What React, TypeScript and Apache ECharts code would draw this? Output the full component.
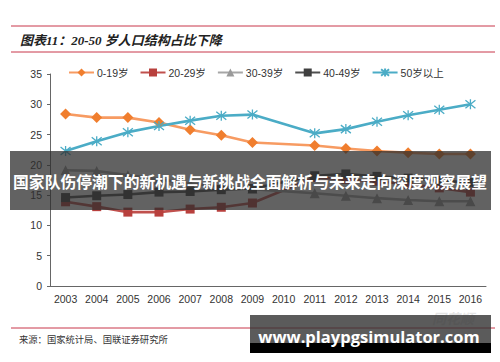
import React, { useEffect, useRef } from "react";
import * as echarts from "echarts";

const years = ["2003", "2004", "2005", "2006", "2007", "2008", "2009", "2010", "2011", "2012", "2013", "2014", "2015", "2016"];
const age0to19 = [28.4, 27.8, 27.8, 27.0, 25.8, 24.9, 23.7, null, 23.2, 22.7, 22.3, 22.0, 21.8, 21.8];
const age20to29 = [13.9, 13.1, 12.2, 12.2, 12.7, 13.0, 13.7, null, 17.9, 17.6, 17.3, 16.8, 16.2, 15.5];
const age30to39 = [19.1, 19.0, 18.3, 17.6, 16.9, 16.4, 16.0, null, 15.3, 14.9, 14.5, 14.2, 14.0, 14.0];
const age40to49 = [14.6, 14.9, 15.1, 15.5, 15.6, 15.9, 16.1, null, 18.2, 18.5, 18.1, 17.8, 17.4, 17.1];
const age50plus = [22.3, 23.9, 25.4, 26.4, 27.3, 28.1, 28.3, null, 25.2, 25.9, 27.1, 28.2, 29.1, 30.0];
const yTicks = { min: 0, max: 35, interval: 5 };

const seriesNames = ["0-19岁", "20-29岁", "30-39岁", "40-49岁", "50岁以上"];

export default function App() {
  const ref = useRef<HTMLDivElement>(null);
  useEffect(() => {
    document.body.style.margin = "0";
    const chart = echarts.init(ref.current!, null, { renderer: "svg" });
    const mk = (name: string, data: (number | null)[], lineColor: string, markColor: string, symbol: string, size: number, extra: any = {}) => ({
      name,
      type: "line",
      data,
      connectNulls: true,
      symbol,
      symbolSize: size,
      showAllSymbol: true,
      lineStyle: { color: lineColor, width: 2.6 },
      itemStyle: { color: markColor, borderColor: markColor, borderWidth: 0, ...extra },
      z: 2,
    });
    chart.setOption({
      animation: false,
      backgroundColor: "#ffffff",
      textStyle: { fontFamily: "Liberation Sans, Arial, Noto Sans CJK SC, sans-serif" },
      legend: {
        left: 68,
        top: 66,
        itemWidth: 25,
        itemHeight: 10,
        itemGap: 11,
        padding: 0,
        textStyle: { fontSize: 10.5, color: "#333", padding: [0, 0, 0, -2] },
        data: seriesNames,
      },
      grid: { left: 50, right: 14, top: 74, bottom: 76 },
      xAxis: {
        type: "category",
        data: years,
        boundaryGap: true,
        axisLine: { lineStyle: { color: "#666", width: 1 } },
        axisTick: { inside: true, length: 3, lineStyle: { color: "#666" } },
        axisLabel: { color: "#333", fontSize: 10.5, margin: 8 },
      },
      yAxis: {
        type: "value",
        min: yTicks.min,
        max: yTicks.max,
        interval: yTicks.interval,
        axisLine: { show: true, lineStyle: { color: "#666", width: 1 } },
        axisTick: { show: true, length: 3, lineStyle: { color: "#666" } },
        splitLine: { show: false },
        axisLabel: { color: "#333", fontSize: 10.5, margin: 8 },
      },
      series: [
        mk(seriesNames[0], age0to19, "#F79B62", "#F07E2E", "diamond", 11),
        mk(seriesNames[1], age20to29, "#C0504D", "#B8403D", "rect", 9),
        mk(seriesNames[2], age30to39, "#A6A6A6", "#9A9A9A", "triangle", 10),
        mk(seriesNames[3], age40to49, "#4F4F4F", "#404040", "rect", 9),
        mk(seriesNames[4], age50plus, "#4BACC6", "#4BACC6", "path://M1,1L9,9M9,1L1,9M5,0L5,10", 10, { borderWidth: 1.3, color: "none", borderColor: "#4BACC6" }),
      ],
      graphic: [
        { type: "line", shape: { x1: 11, y1: 26, x2: 495, y2: 26 }, style: { stroke: "#C8374A", lineWidth: 1 } },
        { type: "line", shape: { x1: 11, y1: 52, x2: 495, y2: 52 }, style: { stroke: "#C8374A", lineWidth: 1 } },
        {
          type: "text",
          x: 20,
          y: 40,
          style: {
            text: "图表11：20-50 岁人口结构占比下降",
            fontSize: 13,
            fontWeight: "bold",
            fontStyle: "italic",
            fontFamily: "Liberation Serif, Noto Sans CJK SC, serif",
            fill: "#222",
            verticalAlign: "middle",
          },
        },
        { type: "line", shape: { x1: 11, y1: 328, x2: 495, y2: 328 }, style: { stroke: "#C8374A", lineWidth: 1 }, z: 1 },
        {
          type: "text",
          x: 19,
          y: 339,
          style: {
            text: "来源：国家统计局、国联证券研究所",
            fontSize: 9.3,
            fontFamily: "Noto Sans CJK SC, sans-serif",
            fill: "#333",
            verticalAlign: "middle",
          },
        },
        {
          type: "text",
          x: 453,
          y: 318,
          style: {
            text: "同花顺",
            fontSize: 14,
            fontStyle: "italic",
            fontWeight: "bold",
            fontFamily: "Noto Sans CJK SC, sans-serif",
            fill: "rgba(150,150,150,0.25)",
            align: "center",
            verticalAlign: "middle",
          },
          z: 1,
        },
        {
          type: "rect",
          shape: { x: 10, y: 151, width: 481, height: 59 },
          style: { fill: "rgba(45,45,45,0.75)" },
          z: 100,
        },
        {
          type: "text",
          x: 250,
          y: 181,
          style: {
            text: "国家队伤停潮下的新机遇与新挑战全面解析与未来走向深度观察展望",
            fontSize: 15.8,
            fontWeight: "bold",
            fontFamily: "Noto Sans CJK SC, sans-serif",
            fill: "#ffffff",
            align: "center",
            verticalAlign: "middle",
          },
          z: 101,
        },
        {
          type: "rect",
          shape: { x: 250, y: 315, width: 241, height: 28 },
          style: { fill: "rgba(50,50,50,0.8)" },
          z: 100,
        },
        {
          type: "rect",
          shape: { x: 250, y: 343, width: 241, height: 10 },
          style: { fill: "#000000" },
          z: 100,
        },
        {
          type: "text",
          x: 369,
          y: 336,
          style: {
            text: "www.playpgsimulator.com",
            fontSize: 16.5,
            fontWeight: "bold",
            fontFamily: "Open Sans, DejaVu Sans, sans-serif",
            fill: "#ffffff",
            align: "center",
            verticalAlign: "middle",
          },
          z: 101,
        },
      ],
    });
    return () => chart.dispose();
  }, []);
  return <div ref={ref} style={{ width: 500, height: 362 }} />;
}
